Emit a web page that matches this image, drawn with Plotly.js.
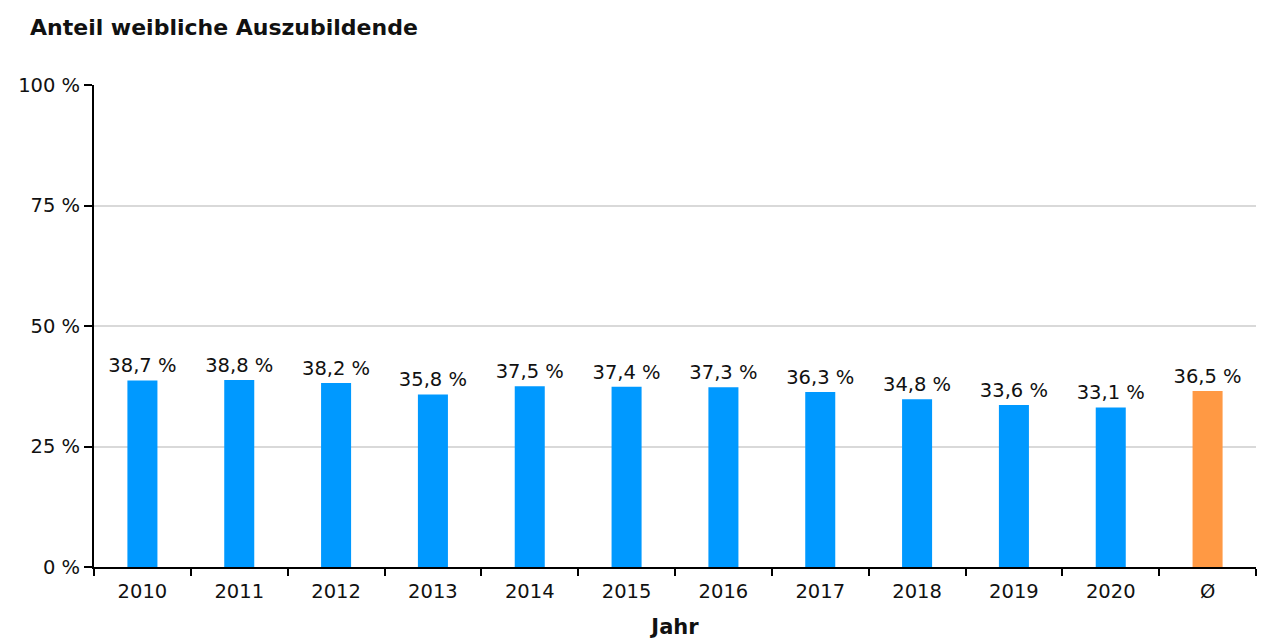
<!DOCTYPE html>
<html>
<head>
<meta charset="utf-8">
<script src="https://cdn.plot.ly/plotly-3.0.1.min.js"></script>
<style>html,body{margin:0;padding:0;background:#fff;}#chart{width:1263px;height:639px;}</style>
</head>
<body>
<div id="chart"></div>
<script>
const categories = ["2010","2011","2012","2013","2014","2015","2016","2017","2018","2019","2020","Ø"];
const values = [38.7, 38.8, 38.2, 35.8, 37.5, 37.4, 37.3, 36.3, 34.8, 33.6, 33.1, 36.5];
const barColors = ["#0099ff","#0099ff","#0099ff","#0099ff","#0099ff","#0099ff","#0099ff","#0099ff","#0099ff","#0099ff","#0099ff","#ff9944"];
const yTicks = [0, 25, 50, 75, 100];

const FONT = "DejaVu Sans, Verdana, sans-serif";
const FS = 19.5;

const trace = {
  type: "bar",
  x: categories,
  y: values,
  marker: {color: barColors},
  text: values.map(v => v.toFixed(1).replace(".", ",") + " %"),
  textposition: "outside",
  constraintext: "none",
  textfont: {family: FONT, size: FS, color: "#111"},
  cliponaxis: false,
  hoverinfo: "x+y"
};

const layout = {
  width: 1263, height: 639,
  margin: {l: 94, r: 7, t: 85, b: 72},
  paper_bgcolor: "#fff", plot_bgcolor: "#fff",
  font: {family: FONT, size: FS, color: "#111"},
  bargap: 0.69,
  showlegend: false,
  title: {text: "<b>Anteil weibliche Auszubildende</b>", x: 30 / 1263, xref: "container", xanchor: "left",
          y: 1 - 27 / 639, yref: "container", yanchor: "middle",
          font: {family: FONT, size: 22, color: "#111"}},
  xaxis: {
    type: "category",
    showline: true, linecolor: "#000", linewidth: 2,
    ticks: "outside", tickson: "boundaries", ticklen: 7, tickwidth: 2, tickcolor: "#000",
    ticklabelstandoff: 6,
    showgrid: false,
    automargin: false,
    tickfont: {family: FONT, size: FS, color: "#111"},
    title: {text: "<b>Jahr</b>", font: {family: FONT, size: 21, color: "#111"}, standoff: 19}
  },
  yaxis: {
    range: [0, 100],
    tickvals: yTicks,
    ticktext: yTicks.map(v => v + " %"),
    showline: true, linecolor: "#000", linewidth: 2,
    ticks: "outside", ticklen: 8, tickwidth: 2, tickcolor: "#000",
    showgrid: true, gridcolor: "#d9d9d9", gridwidth: 2,
    zeroline: false,
    automargin: false,
    tickfont: {family: FONT, size: FS, color: "#111"}
  }
};

Plotly.newPlot("chart", [trace], layout, {displayModeBar: false, responsive: false});
</script>
</body>
</html>
